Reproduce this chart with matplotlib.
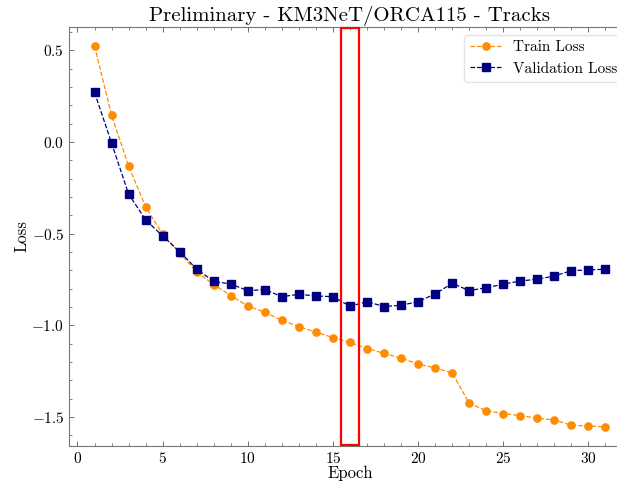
import matplotlib
matplotlib.use('Agg')
import matplotlib.pyplot as plt

plt.rcParams['font.family'] = 'serif'
plt.rcParams['font.serif'] = ['cmr10']
plt.rcParams['mathtext.fontset'] = 'cm'
plt.rcParams['axes.formatter.use_mathtext'] = True

epochs = list(range(1, 32))
train_loss = [0.524, 0.147, -0.131, -0.353, -0.504, -0.605, -0.709, -0.778, -0.838, -0.895,
              -0.929, -0.973, -1.007, -1.038, -1.067, -1.094, -1.127, -1.153, -1.180, -1.211,
              -1.233, -1.260, -1.426, -1.466, -1.482, -1.493, -1.507, -1.517, -1.546, -1.549,
              -1.555]
val_loss = [0.271, -0.005, -0.284, -0.424, -0.513, -0.598, -0.694, -0.760, -0.775, -0.811,
            -0.805, -0.844, -0.831, -0.840, -0.844, -0.896, -0.871, -0.898, -0.891, -0.871,
            -0.829, -0.771, -0.811, -0.795, -0.776, -0.758, -0.749, -0.731, -0.702, -0.698,
            -0.694]
highlight_epoch = 16

fig = plt.figure(figsize=(6.17, 4.82), dpi=100)
# axes run past the right edge, as in the original crop
ax = fig.add_axes([0.1118, 0.0747, 0.9109, 0.8693])

ax.plot(epochs, train_loss, '--o', color='darkorange', lw=0.9, ms=5.2, label='Train Loss')
ax.plot(epochs, val_loss, '--s', color='navy', lw=0.9, ms=5.2, label='Validation Loss')

# red box marking the chosen epoch
ax.axvspan(highlight_epoch - 0.5, highlight_epoch + 0.5, ymin=0.002, ymax=0.998,
           fill=False, edgecolor='red', lw=1.6, clip_on=False, zorder=5)

ax.set_title('Preliminary - KM3NeT/ORCA115 - Tracks', fontsize=15, pad=4)
ax.set_xlabel('Epoch', fontsize=12, labelpad=0)
ax.set_ylabel('Loss', fontsize=12, labelpad=1)

ax.set_xticks([0, 5, 10, 15, 20, 25, 30])
ax.set_yticks([0.5, 0.0, -0.5, -1.0, -1.5])
ax.minorticks_on()
ax.tick_params(which='both', direction='in', top=True, right=True, labelsize=11, colors='#555555',
               labelcolor='black')
ax.tick_params(which='major', length=3.5, width=0.6)
ax.tick_params(which='minor', length=2, width=0.5)
for sp in ax.spines.values():
    sp.set_color('#777777')
    sp.set_linewidth(0.8)

ax.legend(loc='upper right', fontsize=11, framealpha=0.8, edgecolor='#dddddd')

fig.savefig('out.png', dpi=100)
